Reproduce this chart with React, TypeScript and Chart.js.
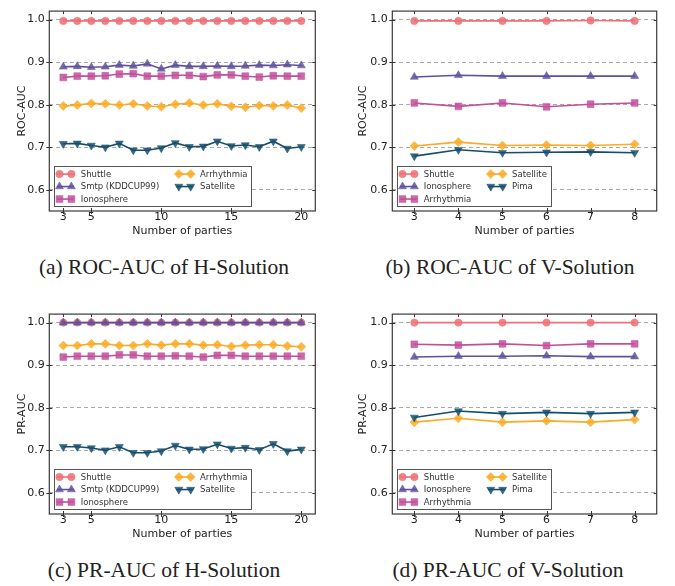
import React, { useEffect, useRef } from 'react';
import { Chart, registerables } from 'chart.js';

Chart.register(...registerables);
Chart.defaults.font.family = '"DejaVu Sans", sans-serif';

// ---------- data ----------
const hParties = [3, 4, 5, 6, 7, 8, 9, 10, 11, 12, 13, 14, 15, 16, 17, 18, 19, 20];
const vParties = [3, 4, 5, 6, 7, 8];
const hXTicks = [3, 5, 10, 15, 20];
const vXTicks = [3, 4, 5, 6, 7, 8];
const yTicks = [0.6, 0.7, 0.8, 0.9, 1.0];

// (a) ROC-AUC of H-Solution
const rocH_Shuttle = [0.997, 0.997, 0.997, 0.997, 0.997, 0.997, 0.997, 0.997, 0.997, 0.997, 0.997, 0.997, 0.997, 0.997, 0.997, 0.997, 0.997, 0.997];
const rocH_Smtp = [0.889, 0.890, 0.888, 0.889, 0.893, 0.891, 0.896, 0.884, 0.893, 0.890, 0.890, 0.891, 0.890, 0.891, 0.893, 0.892, 0.894, 0.892];
const rocH_Ionosphere = [0.864, 0.867, 0.867, 0.868, 0.872, 0.873, 0.867, 0.867, 0.869, 0.869, 0.866, 0.870, 0.870, 0.867, 0.865, 0.868, 0.867, 0.867];
const rocH_Arrhythmia = [0.797, 0.799, 0.803, 0.802, 0.799, 0.802, 0.797, 0.795, 0.801, 0.804, 0.799, 0.802, 0.796, 0.794, 0.798, 0.797, 0.799, 0.792];
const rocH_Satellite = [0.708, 0.709, 0.704, 0.700, 0.709, 0.693, 0.693, 0.698, 0.710, 0.701, 0.702, 0.714, 0.703, 0.705, 0.701, 0.714, 0.697, 0.701];

// (b) ROC-AUC of V-Solution
const rocV_Shuttle = [0.997, 0.997, 0.997, 0.997, 0.998, 0.997];
const rocV_Ionosphere = [0.865, 0.869, 0.867, 0.867, 0.867, 0.867];
const rocV_Arrhythmia = [0.804, 0.796, 0.804, 0.795, 0.801, 0.804];
const rocV_Satellite = [0.703, 0.712, 0.704, 0.705, 0.704, 0.707];
const rocV_Pima = [0.679, 0.694, 0.687, 0.688, 0.689, 0.687];

// (c) PR-AUC of H-Solution
const prH_Shuttle = [1.0, 1.0, 1.0, 1.0, 1.0, 1.0, 1.0, 1.0, 1.0, 1.0, 1.0, 1.0, 1.0, 1.0, 1.0, 1.0, 1.0, 1.0];
const prH_Smtp = [1.0, 1.0, 1.0, 1.0, 1.0, 1.0, 1.0, 1.0, 1.0, 1.0, 1.0, 1.0, 1.0, 1.0, 1.0, 1.0, 1.0, 1.0];
const prH_Ionosphere = [0.919, 0.921, 0.921, 0.921, 0.924, 0.924, 0.921, 0.921, 0.922, 0.921, 0.919, 0.923, 0.923, 0.921, 0.921, 0.921, 0.921, 0.921];
const prH_Arrhythmia = [0.946, 0.946, 0.950, 0.950, 0.946, 0.946, 0.950, 0.947, 0.950, 0.950, 0.947, 0.948, 0.944, 0.947, 0.948, 0.948, 0.945, 0.943];
const prH_Satellite = [0.708, 0.708, 0.705, 0.700, 0.708, 0.694, 0.694, 0.698, 0.711, 0.702, 0.703, 0.714, 0.704, 0.706, 0.701, 0.715, 0.698, 0.702];

// (d) PR-AUC of V-Solution
const prV_Shuttle = [1.0, 1.0, 1.0, 1.0, 1.0, 1.0];
const prV_Ionosphere = [0.919, 0.921, 0.921, 0.922, 0.920, 0.920];
const prV_Arrhythmia = [0.949, 0.947, 0.950, 0.946, 0.950, 0.950];
const prV_Satellite = [0.766, 0.775, 0.766, 0.769, 0.766, 0.772];
const prV_Pima = [0.777, 0.792, 0.786, 0.789, 0.786, 0.789];

// ---------- styles ----------
const RED = [240, 110, 116];
const PURPLE = [95, 81, 158];
const MAGENTA = [194, 79, 155];
const ORANGE = [251, 171, 37];
const NAVY = [21, 78, 108];

type Marker = { style: string; rot: number; r: number };
const CIRCLE: Marker = { style: 'circle', rot: 0, r: 3.7 };
const TRI_UP: Marker = { style: 'triangle', rot: 0, r: 4.6 };
const SQUARE: Marker = { style: 'rect', rot: 0, r: 4.8 };
const DIAMOND: Marker = { style: 'rectRot', rot: 0, r: 4.5 };
const TRI_DOWN: Marker = { style: 'triangle', rot: 180, r: 4.6 };

const rgba = (c: number[], a: number) => `rgba(${c[0]},${c[1]},${c[2]},${a})`;

type Series = { label: string; values: number[]; color: number[]; marker: Marker };

const FS_LEG = 8.5;

function markerPath(ctx: CanvasRenderingContext2D, m: Marker, x: number, y: number) {
  const r = m.r;
  ctx.beginPath();
  if (m.style === 'circle') {
    ctx.arc(x, y, r, 0, Math.PI * 2);
  } else if (m.style === 'triangle') {
    let rad = (m.rot * Math.PI) / 180;
    ctx.moveTo(x + Math.sin(rad) * r, y - Math.cos(rad) * r);
    rad += (2 * Math.PI) / 3;
    ctx.lineTo(x + Math.sin(rad) * r, y - Math.cos(rad) * r);
    rad += (2 * Math.PI) / 3;
    ctx.lineTo(x + Math.sin(rad) * r, y - Math.cos(rad) * r);
    ctx.closePath();
  } else if (m.style === 'rect') {
    const s = r * Math.SQRT1_2;
    ctx.rect(x - s, y - s, 2 * s, 2 * s);
  } else {
    ctx.moveTo(x - r, y);
    ctx.lineTo(x, y - r);
    ctx.lineTo(x + r, y);
    ctx.lineTo(x, y + r);
    ctx.closePath();
  }
}

function drawLegend(chart: any, series: Series[]) {
  const ctx: CanvasRenderingContext2D = chart.ctx;
  const { left, bottom } = chart.chartArea;
  const fs = FS_LEG;
  ctx.save();
  ctx.font = `${fs}px "DejaVu Sans", sans-serif`;
  const rows = Math.ceil(series.length / 2);
  const cols = [series.slice(0, rows), series.slice(rows)];
  const hl = 2 * fs, tp = 0.8 * fs, cs = 2 * fs, bp = 0.4 * fs;
  const widths = cols.map((c) => Math.max(...c.map((s) => ctx.measureText(s.label).width)));
  const boxL = left + 0.5 * fs;
  const boxW = bp + hl + tp + widths[0] + cs + hl + tp + widths[1] + bp;
  const pitch = 12.5, padV = 7.7;
  const boxH = padV * 2 + pitch * (rows - 1);
  const boxB = bottom - 0.5 * fs;
  const boxT = boxB - boxH;
  ctx.fillStyle = '#ffffff';
  ctx.fillRect(boxL, boxT, boxW, boxH);
  ctx.strokeStyle = '#555555';
  ctx.lineWidth = 1;
  ctx.strokeRect(Math.round(boxL) + 0.5, Math.round(boxT) + 0.5, Math.round(boxW), Math.round(boxH));
  let colX = boxL + bp;
  cols.forEach((col, ci) => {
    col.forEach((s, ri) => {
      const y = boxT + padV + ri * pitch;
      ctx.strokeStyle = rgba(s.color, 1);
      ctx.lineWidth = 1.6;
      ctx.beginPath();
      ctx.moveTo(colX, y);
      ctx.lineTo(colX + hl, y);
      ctx.stroke();
      [colX + 0.3 * fs, colX + hl - 0.3 * fs].forEach((mx) => {
        markerPath(ctx, s.marker, mx, y);
        ctx.fillStyle = rgba(s.color, 0.85);
        ctx.fill();
        ctx.strokeStyle = rgba(s.color, 0.5);
        ctx.lineWidth = 1;
        ctx.stroke();
      });
      ctx.fillStyle = '#333333';
      ctx.textBaseline = 'middle';
      ctx.textAlign = 'left';
      ctx.fillText(s.label, colX + hl + tp, y + 0.5);
    });
    colX += hl + tp + widths[ci] + cs;
  });
  ctx.restore();
}

type PanelProps = {
  left: number;
  top: number;
  width: number;
  height: number;
  plotLeft: number;
  plotRight: number;
  xs: number[];
  xTicks: number[];
  xMin: number;
  xMax: number;
  yTitle: string;
  yTitleX: number;
  series: Series[];
};

function Panel(p: PanelProps) {
  const ref = useRef<HTMLCanvasElement>(null);
  useEffect(() => {
    if (!ref.current) return;
    const n = p.series.length;
    const tickFont = { family: '"DejaVu Sans", sans-serif', size: 11 };
    const framePlugin = {
      id: 'frameAndLegend',
      afterDatasetsDraw(chart: any) {
        const ctx: CanvasRenderingContext2D = chart.ctx;
        const { left, right, top, bottom } = chart.chartArea;
        const xs = chart.scales.x, ys = chart.scales.y;
        ctx.save();
        ctx.strokeStyle = '#333333';
        ctx.lineWidth = 1;
        ctx.beginPath();
        p.xTicks.forEach((v) => {
          const px = Math.round(xs.getPixelForValue(v)) + 0.5;
          ctx.moveTo(px, bottom + 3);
          ctx.lineTo(px, bottom - 3);
          ctx.moveTo(px, top);
          ctx.lineTo(px, top + 3);
        });
        yTicks.forEach((v) => {
          const py = Math.round(ys.getPixelForValue(v)) + 0.5;
          ctx.moveTo(left - 3, py);
          ctx.lineTo(left + 3, py);
          ctx.moveTo(right, py);
          ctx.lineTo(right - 3, py);
        });
        ctx.stroke();
        ctx.strokeStyle = '#3a3a3a';
        ctx.lineWidth = 1.2;
        ctx.strokeRect(left, top, right - left, bottom - top);
        ctx.restore();
      },
      afterDraw(chart: any) {
        drawLegend(chart, p.series);
      },
    };
    const chart = new Chart(ref.current, {
      type: 'line',
      data: {
        datasets: p.series.map((s, i) => ({
          label: s.label,
          data: p.xs.map((x, j) => ({ x, y: s.values[j] })),
          borderColor: rgba(s.color, 1),
          backgroundColor: rgba(s.color, 1),
          pointBackgroundColor: rgba(s.color, 0.85),
          pointBorderColor: rgba(s.color, 0.5),
          pointBorderWidth: 1,
          pointStyle: s.marker.style as any,
          pointRotation: s.marker.rot,
          pointRadius: s.marker.r,
          borderWidth: 1.6,
          tension: 0,
          fill: false,
          order: n - 1 - i,
        })),
      },
      options: {
        animation: false,
        responsive: false,
        events: [],
        layout: { padding: { left: 0, right: p.width - p.plotRight, top: 5, bottom: 0 } },
        plugins: { legend: { display: false }, tooltip: { enabled: false } },
        scales: {
          x: {
            type: 'linear',
            min: p.xMin,
            max: p.xMax,
            afterBuildTicks: (scale: any) => {
              scale.ticks = p.xTicks.map((v) => ({ value: v }));
            },
            afterFit: (scale: any) => {
              scale.height = 34;
            },
            grid: { display: false, drawTicks: false },
            border: { display: false },
            ticks: {
              autoSkip: false,
              maxRotation: 0,
              padding: 0,
              color: '#222222',
              font: tickFont,
              callback: (v: any) => String(v),
            },
            title: {
              display: true,
              text: 'Number of parties',
              color: '#222222',
              font: tickFont,
              padding: { top: 0, bottom: 7 },
            },
          },
          y: {
            type: 'linear',
            min: 0.55,
            max: 1.02,
            afterBuildTicks: (scale: any) => {
              scale.ticks = yTicks.map((v) => ({ value: v }));
            },
            afterFit: (scale: any) => {
              scale.width = p.plotLeft;
            },
            grid: { color: '#a9a9a9', lineWidth: 1, drawTicks: false },
            border: { display: false, dash: [4, 3] },
            ticks: {
              padding: 4.5,
              color: '#222222',
              font: tickFont,
              callback: (v: any) => Number(v).toFixed(1),
            },
            title: {
              display: true,
              text: p.yTitle,
              color: '#222222',
              font: tickFont,
              padding: { top: p.yTitleX - 6.6, bottom: 0 },
            },
          },
        },
      },
      plugins: [framePlugin as any],
    });
    return () => chart.destroy();
  }, []);
  return (
    <div style={{ position: 'absolute', left: p.left, top: p.top, width: p.width, height: p.height }}>
      <canvas ref={ref} width={p.width} height={p.height} style={{ display: 'block' }} />
    </div>
  );
}

function Caption({ text, cx, cy }: { text: string; cx: number; cy: number }) {
  return (
    <div
      style={{
        position: 'absolute',
        left: cx - 170,
        top: cy - 13,
        width: 340,
        height: 26,
        lineHeight: '26px',
        textAlign: 'center',
        fontFamily: '"Liberation Serif", "Times New Roman", serif',
        fontSize: 21.5,
        color: '#222222',
        whiteSpace: 'nowrap',
      }}
    >
      {text}
    </div>
  );
}

const seriesA: Series[] = [
  { label: 'Shuttle', values: rocH_Shuttle, color: RED, marker: CIRCLE },
  { label: 'Smtp (KDDCUP99)', values: rocH_Smtp, color: PURPLE, marker: TRI_UP },
  { label: 'Ionosphere', values: rocH_Ionosphere, color: MAGENTA, marker: SQUARE },
  { label: 'Arrhythmia', values: rocH_Arrhythmia, color: ORANGE, marker: DIAMOND },
  { label: 'Satellite', values: rocH_Satellite, color: NAVY, marker: TRI_DOWN },
];
const seriesB: Series[] = [
  { label: 'Shuttle', values: rocV_Shuttle, color: RED, marker: CIRCLE },
  { label: 'Ionosphere', values: rocV_Ionosphere, color: PURPLE, marker: TRI_UP },
  { label: 'Arrhythmia', values: rocV_Arrhythmia, color: MAGENTA, marker: SQUARE },
  { label: 'Satellite', values: rocV_Satellite, color: ORANGE, marker: DIAMOND },
  { label: 'Pima', values: rocV_Pima, color: NAVY, marker: TRI_DOWN },
];
const seriesC: Series[] = [
  { label: 'Shuttle', values: prH_Shuttle, color: RED, marker: CIRCLE },
  { label: 'Smtp (KDDCUP99)', values: prH_Smtp, color: PURPLE, marker: TRI_UP },
  { label: 'Ionosphere', values: prH_Ionosphere, color: MAGENTA, marker: SQUARE },
  { label: 'Arrhythmia', values: prH_Arrhythmia, color: ORANGE, marker: DIAMOND },
  { label: 'Satellite', values: prH_Satellite, color: NAVY, marker: TRI_DOWN },
];
const seriesD: Series[] = [
  { label: 'Shuttle', values: prV_Shuttle, color: RED, marker: CIRCLE },
  { label: 'Ionosphere', values: prV_Ionosphere, color: PURPLE, marker: TRI_UP },
  { label: 'Arrhythmia', values: prV_Arrhythmia, color: MAGENTA, marker: SQUARE },
  { label: 'Satellite', values: prV_Satellite, color: ORANGE, marker: DIAMOND },
  { label: 'Pima', values: prV_Pima, color: NAVY, marker: TRI_DOWN },
];

export default function App() {
  const H = {
    width: 337, height: 245, plotLeft: 49.3, plotRight: 315.3,
    xs: hParties, xTicks: hXTicks, xMin: 2, xMax: 21, yTitleX: 21.7,
  };
  const V = {
    width: 338, height: 245, plotLeft: 55.3, plotRight: 319.7,
    xs: vParties, xTicks: vXTicks, xMin: 2.5, xMax: 8.5, yTitleX: 26.3,
  };
  return (
    <div style={{ position: 'absolute', left: 0, top: 0, width: 675, height: 586, background: '#ffffff', overflow: 'hidden' }}>
      <Panel {...H} left={0} top={0} yTitle="ROC-AUC" series={seriesA} />
      <Panel {...V} left={337} top={0} yTitle="ROC-AUC" series={seriesB} />
      <Panel {...H} left={0} top={303} yTitle="PR-AUC" series={seriesC} />
      <Panel {...V} left={337} top={303} yTitle="PR-AUC" series={seriesD} />
      <Caption text="(a) ROC-AUC of H-Solution" cx={164} cy={267} />
      <Caption text="(b) ROC-AUC of V-Solution" cx={510} cy={267} />
      <Caption text="(c) PR-AUC of H-Solution" cx={164} cy={570} />
      <Caption text="(d) PR-AUC of V-Solution" cx={508} cy={570} />
    </div>
  );
}
